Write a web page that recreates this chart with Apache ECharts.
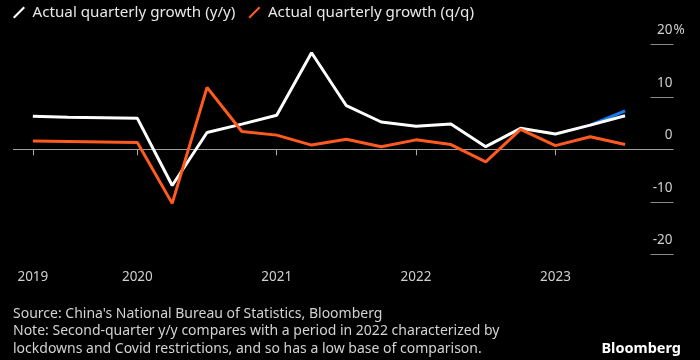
<!DOCTYPE html>
<html>
<head>
<meta charset="utf-8">
<script src="https://cdn.jsdelivr.net/npm/echarts@6/dist/echarts.min.js"></script>
<style>
  html, body { margin: 0; padding: 0; background: #000; }
  #chart { width: 700px; height: 360px; }
</style>
</head>
<body>
<div id="chart"></div>
<script>
// ---- Data ----
var quarters = ['2019 Q1','2019 Q2','2019 Q3','2019 Q4','2020 Q1','2020 Q2','2020 Q3','2020 Q4',
                '2021 Q1','2021 Q2','2021 Q3','2021 Q4','2022 Q1','2022 Q2','2022 Q3','2022 Q4',
                '2023 Q1','2023 Q2'];
var yoyGrowth = [6.3, 6.1, 6.0, 5.9, -6.9, 3.2, 4.8, 6.5, 18.4, 8.3, 5.2, 4.4, 4.8, 0.5, 4.0, 2.9, 4.6, 6.4];
var qoqGrowth = [1.6, 1.5, 1.4, 1.3, -10.3, 11.8, 3.4, 2.7, 0.8, 1.9, 0.5, 1.8, 0.9, -2.4, 3.8, 0.7, 2.4, 0.9];
var expectedYoy = [null, null, null, null, null, null, null, null, null, null, null, null, null, null, null, null, 4.6, 7.3];
var yearTickIndex = [0, 3, 7, 11, 15];
var yearTickLabels = ['2019', '2020', '2021', '2022', '2023'];
var yTickValues = [-20, -10, 0, 10, 20];
var seriesNames = ['Actual quarterly growth (y/y)', 'Actual quarterly growth (q/q)'];
var footerLines = [
  "Source: China's National Bureau of Statistics, Bloomberg",
  "Note: Second-quarter y/y compares with a period in 2022 characterized by",
  "lockdowns and Covid restrictions, and so has a low base of comparison."
];
var brand = 'Bloomberg';

// ---- Build ----
function pairs(arr) {
  var out = [];
  for (var i = 0; i < arr.length; i++) out.push([i, arr[i]]);
  return out;
}
var FONT = 'Noto Sans';
var slash = 'path://M0,10.5 L10.5,0 L12,1.5 L1.5,12 Z';
var LABEL_COLOR = '#cfcfcf';
var GRID_TOP = 44.3, GRID_BOTTOM = 105.7, GRID_RIGHT = 26.5;
var yMin = yTickValues[0], yMax = yTickValues[yTickValues.length - 1];

var chart = echarts.init(document.getElementById('chart'), null, { renderer: 'canvas' });
chart.setOption({
  backgroundColor: '#000000',
  animation: false,
  textStyle: { fontFamily: FONT },
  title: [
    {
      text: footerLines.join('\n'),
      left: 13, top: 305, padding: 0,
      textStyle: { fontFamily: FONT, fontSize: 14, fontWeight: 'normal', color: '#d2d2d2', lineHeight: 17.5 }
    },
    {
      text: brand,
      right: 19, top: 340, padding: 0,
      textStyle: { fontFamily: FONT, fontSize: 14.5, fontWeight: 'bold', color: '#ffffff', lineHeight: 18 }
    }
  ],
  legend: {
    data: [
      { name: seriesNames[0], icon: slash, itemStyle: { color: '#ffffff' } },
      { name: seriesNames[1], icon: slash, itemStyle: { color: '#ff5a1f' } }
    ],
    left: 13, top: 5, padding: 0,
    itemWidth: 13, itemHeight: 12, itemGap: 13,
    textStyle: { fontFamily: FONT, fontSize: 15.2, color: '#e8e8e8', padding: [0, 0, 0, 2] }
  },
  grid: [
    { left: 13, right: GRID_RIGHT, top: GRID_TOP, bottom: GRID_BOTTOM, containLabel: false },
    { left: 650.5, right: GRID_RIGHT, top: GRID_TOP, bottom: GRID_BOTTOM, containLabel: false }
  ],
  xAxis: [
    {
      type: 'value', gridIndex: 0,
      min: -0.57, max: 18.39,
      axisLine: { show: false },
      splitLine: { show: false },
      axisTick: { show: true, customValues: yearTickIndex, length: 6, lineStyle: { color: '#aaaaaa', width: 1 } },
      axisLabel: {
        customValues: yearTickIndex,
        margin: 16,
        fontSize: 13.5, color: LABEL_COLOR, fontFamily: FONT,
        formatter: function (v) {
          var k = yearTickIndex.indexOf(Math.round(v));
          return k >= 0 ? yearTickLabels[k] : '';
        }
      }
    },
    { type: 'value', gridIndex: 1, min: 0, max: 1, show: false }
  ],
  yAxis: [
    {
      type: 'value', gridIndex: 0, position: 'right', offset: -23,
      min: yMin, max: yMax, interval: 10,
      axisLine: { show: false },
      axisTick: { show: false },
      splitLine: { show: true, lineStyle: { color: ['transparent', 'transparent', '#a0a0a0', 'transparent', 'transparent'], width: 1 } },
      axisLabel: {
        inside: false, margin: 35, align: 'right',
        verticalAlign: 'bottom', padding: [0, 0, 7, 0],
        fontSize: 13.5, color: LABEL_COLOR, fontFamily: FONT,
        formatter: function (v) {
          var pct = (v === yMax) ? '%' : '';
          return '{n|' + v + '}{p|' + pct + '}';
        },
        rich: {
          n: { fontSize: 13.5, color: LABEL_COLOR, fontFamily: FONT },
          p: { fontSize: 13.5, color: LABEL_COLOR, fontFamily: FONT, width: 13, align: 'left' }
        }
      }
    },
    {
      type: 'value', gridIndex: 1, position: 'right',
      min: yMin, max: yMax, interval: 10,
      axisLine: { show: false }, axisTick: { show: false }, axisLabel: { show: false },
      splitLine: { show: true, lineStyle: { color: ['#8a8a8a', '#8a8a8a', 'transparent', '#8a8a8a', '#8a8a8a'], width: 1 } }
    }
  ],
  series: [
    {
      name: 'Expected (y/y)', type: 'line', data: pairs(expectedYoy), showSymbol: false, symbol: 'none',
      connectNulls: false, lineStyle: { color: '#1a7cf5', width: 3 }, itemStyle: { color: '#1a7cf5' }, z: 2
    },
    {
      name: seriesNames[0], type: 'line', data: pairs(yoyGrowth), showSymbol: false, symbol: 'none',
      lineStyle: { color: '#ffffff', width: 3 }, itemStyle: { color: '#ffffff' }, z: 3
    },
    {
      name: seriesNames[1], type: 'line', data: pairs(qoqGrowth), showSymbol: false, symbol: 'none',
      lineStyle: { color: '#ff5a1f', width: 3 }, itemStyle: { color: '#ff5a1f' }, z: 4
    }
  ]
});
</script>
</body>
</html>
